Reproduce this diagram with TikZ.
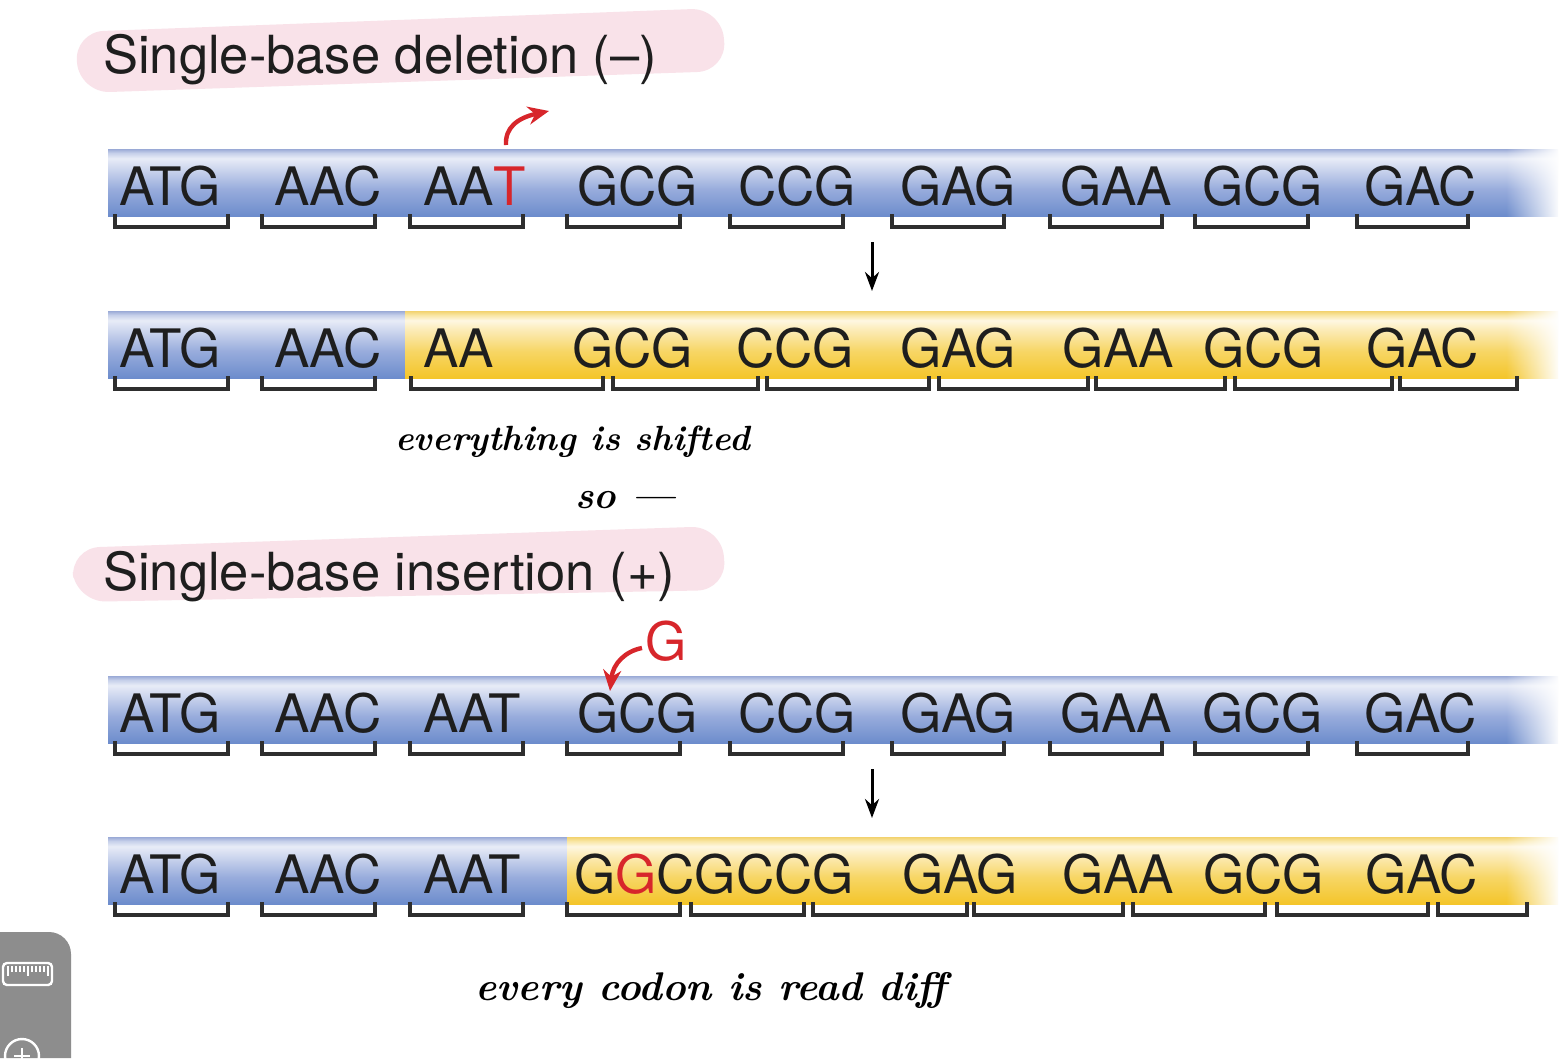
\documentclass[tikz,border=0pt]{standalone}
\usepackage{fontspec}
\newfontfamily\hv{TeX Gyre Heros}
\usetikzlibrary{arrows.meta,fadings}
\definecolor{dnared}{HTML}{D7262B}
\definecolor{pinkbg}{HTML}{F9E2E9}
\definecolor{txt}{HTML}{1E1E1E}
\definecolor{bkt}{HTML}{2E2E2E}
\definecolor{uigray}{HTML}{8D8D8D}
\definecolor{bb0}{HTML}{6C8CCC}
\definecolor{bb1}{HTML}{98ACDC}
\definecolor{bb2}{HTML}{D3DBF0}
\definecolor{bb3}{HTML}{E8ECF7}
\definecolor{bb4}{HTML}{C6D0EA}
\definecolor{bb5}{HTML}{9AAAD6}
\definecolor{yy0}{HTML}{F4C52A}
\definecolor{yy1}{HTML}{F7D665}
\definecolor{yy2}{HTML}{FCEDBC}
\definecolor{yy3}{HTML}{FEF7E2}
\definecolor{yy4}{HTML}{F9E6A4}
\definecolor{yy5}{HTML}{F2D26E}
\pgfdeclareverticalshading{bluebar}{100bp}{color(0bp)=(bb0); color(25bp)=(bb0); color(45bp)=(bb1); color(62bp)=(bb2); color(68bp)=(bb3); color(72bp)=(bb4); color(75bp)=(bb5); color(100bp)=(bb5)}
\pgfdeclareverticalshading{yellowbar}{100bp}{color(0bp)=(yy0); color(25bp)=(yy0); color(45bp)=(yy1); color(62bp)=(yy2); color(68bp)=(yy3); color(72bp)=(yy4); color(75bp)=(yy5); color(100bp)=(yy5)}
\tikzset{
  codon/.style={anchor=base west, inner sep=0pt, text=txt, font=\hv\fontsize{53}{57}\selectfont},
  header/.style={anchor=base west, inner sep=0pt, text=txt, font=\hv\fontsize{52.5}{57}\selectfont},
  bracketline/.style={draw=bkt, line width=3.2pt, line join=miter},
  downarrow/.style={draw=black, line width=3pt, -{Stealth[length=19pt,width=14pt]}},
  redarrow/.style={draw=dnared, line width=4.4pt, -{Stealth[length=21pt,width=18pt]}},
  note/.style={anchor=base west, inner sep=0pt, text=black, font=\fontsize{38}{42}\selectfont\bfseries\itshape},
}
\newcommand\dnabar[2]{%
  \shade[shading=bluebar] (108,#1) rectangle (#2,#1+67);
  \ifdim #2pt<1500pt \shade[shading=yellowbar] (#2,#1) rectangle (1558,#1+67);\fi
  \fill[white,path fading=west] (1506,#1-1) rectangle (1560,#1+68);
}
\newcommand\codonbrackets[2]{%
  \foreach \a/\b in {#2} {\draw[bracketline] (\a,#1) -- ++(0,13) -| (\b,#1);}
}
\begin{document}
\begin{tikzpicture}[x=1pt,y=-1pt]
\useasboundingbox (0,0) rectangle (1562,1058);
\fill[white] (0,0) rectangle (1562,1058);

% ---------- headers ----------
\fill[pinkbg, rounded corners=30pt] (74,32) -- (721,8) -- (727,71) -- (80,93) -- cycle;
\node[header] (h1) at (103,73) {Single-base deletion (–)};
\fill[pinkbg, rounded corners=30pt] (70,548) -- (721,526) -- (727,590) -- (76,602) -- cycle;
\node[header] (h2) at (103,590) {Single-base insertion (+)};

% ---------- bars ----------
\dnabar{149}{1558}
\dnabar{311}{405}
\dnabar{676}{1558}
\dnabar{837}{567}

% ---------- row 1 ----------
\foreach \x/\t [count=\i] in {119/ATG, 274/AAC, 423/{AA\textcolor{dnared}{T}}, 577/GCG, 738/CCG, 900/GAG, 1060/GAA, 1202/GCG, 1364/GAC}
  {\node[codon] (ra\i) at (\x,205) {\t};}
\codonbrackets{214}{115/228, 262/375, 410/523, 567/680, 730/843, 892/1004, 1050/1162, 1195/1308, 1357/1468}

% ---------- row 2 ----------
\foreach \x/\t [count=\i] in {119/ATG, 274/AAC, 423/AA, 572/GCG, 736/CCG, 900/GAG, 1062/GAA, 1203/GCG, 1366/GAC}
  {\node[codon] (rb\i) at (\x,367) {\t};}
\codonbrackets{376}{115/228, 262/375, 411/603, 613/758, 767/929, 939/1088, 1096/1225, 1235/1392, 1400/1517}

% ---------- row 3 ----------
\foreach \x/\t [count=\i] in {119/ATG, 274/AAC, 423/AAT, 577/GCG, 738/CCG, 900/GAG, 1060/GAA, 1202/GCG, 1364/GAC}
  {\node[codon] (rc\i) at (\x,732) {\t};}
\codonbrackets{741}{115/228, 262/375, 410/523, 567/680, 730/843, 892/1004, 1050/1162, 1195/1308, 1357/1468}

% ---------- row 4 ----------
\foreach \x/\t [count=\i] in {119/ATG, 274/AAC, 423/AAT, 574/{G\textcolor{dnared}{G}CGCCG}, 902/GAG, 1062/GAA, 1203/GCG, 1365/GAC}
  {\node[codon] (rd\i) at (\x,893) {\t};}
\codonbrackets{902}{115/228, 262/375, 410/523, 567/680, 691/804, 813/967, 974/1123, 1133/1265, 1277/1428, 1438/1527}

% ---------- down arrows ----------
\coordinate (d1s) at (872,242);
\coordinate (d1e) at (872,291);
\draw[downarrow] (d1s) -- (d1e);
\coordinate (d2s) at (872,769);
\coordinate (d2e) at (872,818);
\draw[downarrow] (d2s) -- (d2e);

% ---------- red arrows ----------
\coordinate (delS) at (506,145);
\coordinate (delE) at (549,111);
\draw[redarrow] (delS) .. controls (505,128) and (517,118) .. (delE);

\node[codon, text=dnared] (insG) at (645,660) {G};
\coordinate (insS) at (642,648);
\coordinate (insE) at (610,691);
\draw[redarrow] (insS) .. controls (626,651) and (613,663) .. (insE);

% ---------- handwritten notes ----------
\node[note, font=\fontsize{35}{40}\selectfont\bfseries\itshape] (n1) at (395,450) {everything is shifted};
\node[note] (n2) at (575,508) {so —};
\node[note, font=\fontsize{40}{44}\selectfont\bfseries\itshape] (n3) at (475,1000) {every codon is read diff};

% ---------- UI panel ----------
\fill[uigray] (0,1058) -- (0,932) [rounded corners=22pt] -- (71,932) [sharp corners] -- (71,1058) -- cycle;
\draw[white, line width=2.4pt, rounded corners=4pt] (3,963) rectangle (52,985);
\foreach \k in {0,...,10} {\draw[white, line width=1.3pt] (8+\k*4,966) -- (8+\k*4,972);}
\foreach \k in {0,5,10} {\draw[white, line width=1.3pt] (8+\k*4,966) -- (8+\k*4,976);}
\draw[white, line width=2.4pt] (22,1056) circle[radius=17pt];
\draw[white, line width=2.4pt] (14,1056) -- (30,1056) (22,1048) -- (22,1064);
\end{tikzpicture}
\end{document}
